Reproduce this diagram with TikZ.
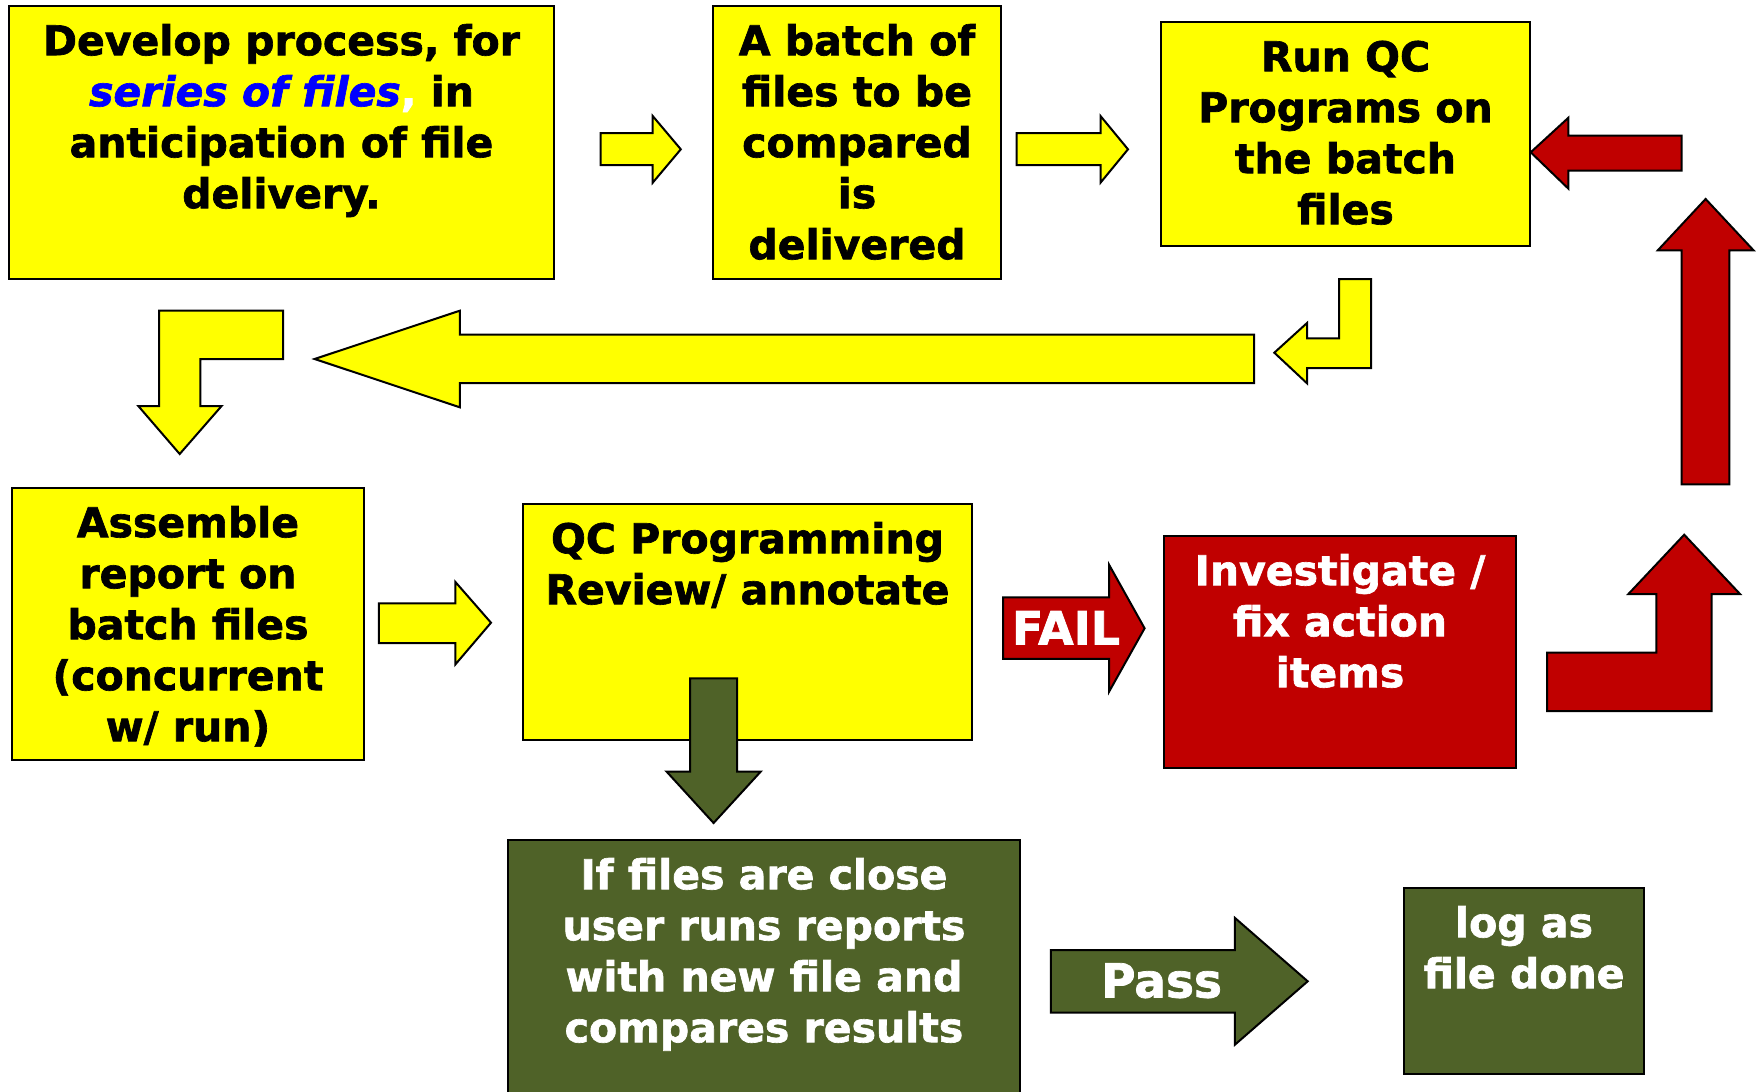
\documentclass[tikz,border=0pt]{standalone}
\usepackage{fontspec}
\setmainfont{DejaVu Sans}[BoldFeatures={FakeBold=1.6}, BoldItalicFeatures={FakeBold=1.6}]
\definecolor{qcyellow}{HTML}{FFFF00}
\definecolor{qcred}{HTML}{C00000}
\definecolor{qcgreen}{HTML}{4F6228}
\definecolor{qcblue}{HTML}{0000FF}
\tikzset{
  stage/.style={draw=black, line width=2pt, rectangle, inner sep=0pt, anchor=north west},
  ybox/.style={stage, fill=qcyellow},
  rbox/.style={stage, fill=qcred},
  gbox/.style={stage, fill=qcgreen},
  stagetext/.style={anchor=north, inner sep=0pt, align=center,
    font=\bfseries\fontsize{41}{51}\selectfont},
  yarrow/.style={draw=black, line width=2pt, line join=miter, fill=qcyellow},
  rarrow/.style={draw=black, line width=2pt, line join=miter, fill=qcred},
  garrow/.style={draw=black, line width=2pt, line join=miter, fill=qcgreen},
  arrowtext/.style={anchor=base, inner sep=0pt, text=white,
    font=\bfseries\fontsize{46}{55}\selectfont},
}
\begin{document}
\begin{tikzpicture}[x=1pt, y=-1pt]
\useasboundingbox (0,0) rectangle (1762,1092);
\clip (0,0) rectangle (1762,1092);

% process boxes
\node[ybox, minimum width=545pt, minimum height=273pt] (develop) at (8,5) {};
\node[ybox, minimum width=288pt, minimum height=273pt] (batch) at (712,5) {};
\node[ybox, minimum width=369pt, minimum height=224pt] (runqc) at (1160,21) {};
\node[ybox, minimum width=352pt, minimum height=272pt] (assemble) at (11,487) {};
\node[ybox, minimum width=449pt, minimum height=236pt] (review) at (522,503) {};
\node[gbox, minimum width=512pt, minimum height=261pt] (compare) at (507,839) {};
\node[rbox, minimum width=352pt, minimum height=232pt] (investigate) at (1163,535) {};
\node[gbox, minimum width=240pt, minimum height=186pt] (logdone) at (1403,887) {};

% box texts
\node[stagetext] (developtext) at ([yshift=-14.3pt]develop.north)
  {\strut Develop process, for\\
   {\color{qcblue}\itshape series of files}{\color{white},} in\\
   anticipation of file\\ delivery.};
\node[stagetext] (batchtext) at ([yshift=-14.3pt]batch.north)
  {\strut A batch of\\ files to be\\ compared\\ is\\ delivered};
\node[stagetext] (runqctext) at ([yshift=-14.3pt]runqc.north)
  {\strut Run QC\\ Programs on\\ the batch\\ files};
\node[stagetext] (assembletext) at ([yshift=-14.3pt]assemble.north)
  {\strut Assemble\\ report on\\ batch files\\ (concurrent\\ w/ run)};
\node[stagetext] (reviewtext) at ([yshift=-14.3pt]review.north)
  {\strut QC Programming\\ Review/ annotate};
\node[stagetext, text=white] (comparetext) at ([yshift=-14.3pt]compare.north)
  {\strut If files are close\\ user runs reports\\ with new file and\\ compares results};
\node[stagetext, text=white] (investigatetext) at ([yshift=-14.3pt]investigate.north)
  {\strut Investigate /\\ fix action\\ items};
\node[stagetext, text=white] (logdonetext) at ([yshift=-14.3pt]logdone.north)
  {\strut log as\\ file done};

% yellow flow arrows
\draw[yarrow] (600.5,133) -- (652.7,133) -- (652.7,116) -- (680.8,149.3)
  -- (652.7,182.7) -- (652.7,165) -- (600.5,165) -- cycle;
\draw[yarrow] (1016.7,133) -- (1100.5,133) -- (1100.5,116) -- (1128,149.3)
  -- (1100.5,182.7) -- (1100.5,165) -- (1016.7,165) -- cycle;
\draw[yarrow] (1339,279) -- (1371,279) -- (1371,368) -- (1307,368) -- (1307,383.3)
  -- (1274.3,352.7) -- (1307,323) -- (1307,338.3) -- (1339,338.3) -- cycle;
\draw[yarrow] (1254,334.7) -- (459.8,334.7) -- (459.8,310.7) -- (314.6,359)
  -- (459.8,407.3) -- (459.8,383) -- (1254,383) -- cycle;
\draw[yarrow] (159,310.7) -- (283,310.7) -- (283,359) -- (200.3,359) -- (200.3,406)
  -- (221.6,406) -- (179.7,454) -- (138.3,406) -- (159,406) -- cycle;
\draw[yarrow] (378.8,603.3) -- (455.4,603.3) -- (455.4,582) -- (491,622.7)
  -- (455.4,664.4) -- (455.4,643) -- (378.8,643) -- cycle;

% red loop back to the QC run
\draw[rarrow] (1003,597.4) -- (1109,597.4) -- (1109,564.6) -- (1144.6,628.3)
  -- (1109,691.8) -- (1109,658.9) -- (1003,658.9) -- cycle;
\node[arrowtext] (faillabel) at (1066,644.6) {FAIL};
\draw[rarrow] (1547,652.5) -- (1656.3,652.5) -- (1656.3,594) -- (1628.4,594)
  -- (1684.2,534.7) -- (1740,594) -- (1711.7,594) -- (1711.7,711) -- (1547,711) -- cycle;
\draw[rarrow] (1681.5,484.3) -- (1681.5,250.3) -- (1657.8,250.3) -- (1705.6,199)
  -- (1753.5,250.3) -- (1729.3,250.3) -- (1729.3,484.3) -- cycle;
\draw[rarrow] (1681.5,135.7) -- (1568.4,135.7) -- (1568.4,117.7) -- (1530.7,152.3)
  -- (1568.4,188.7) -- (1568.4,170.7) -- (1681.5,170.7) -- cycle;

% green pass path
\draw[garrow] (690,678.3) -- (737.2,678.3) -- (737.2,771.5) -- (760.8,771.5)
  -- (713.6,823) -- (666.5,771.5) -- (690,771.5) -- cycle;
\draw[garrow] (1050.8,950) -- (1234.9,950) -- (1234.9,917.9) -- (1307.7,981.3)
  -- (1234.9,1044.7) -- (1234.9,1012.6) -- (1050.8,1012.6) -- cycle;
\node[arrowtext, font=\bfseries\fontsize{47}{56}\selectfont] (passlabel) at (1161.5,997.5) {Pass};
\end{tikzpicture}
\end{document}
